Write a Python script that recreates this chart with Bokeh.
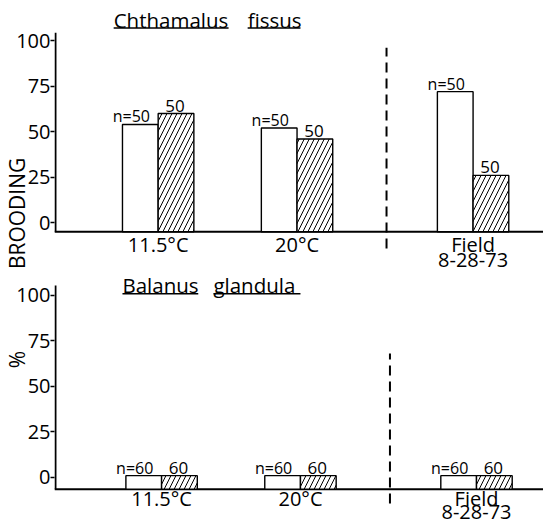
from bokeh.core.properties import value
from bokeh.embed import file_html
from bokeh.models import ColumnDataSource, FixedTicker, Range1d
from bokeh.plotting import figure
from bokeh.resources import INLINE

# ---- data -----------------------------------------------------------------
conditions = ["11.5\u00b0C", "20\u00b0C", "Field\n8-28-73"]
y_ticks = [0, 25, 50, 75, 100]

# Chthamalus fissus: percent brooding
chth_open = [54, 52, 72]
chth_hatched = [60, 46, 26]
chth_n_open = [50, 50, 50]
chth_n_hatched = [50, 50, 50]

# Balanus glandula: percent brooding
bal_open = [1, 1, 1]
bal_hatched = [1, 1, 1]
bal_n_open = [60, 60, 60]
bal_n_hatched = [60, 60, 60]

# ---- layout constants -----------------------------------------------------
FONT = "Open Sans"
GROUP_X = [21.2, 49.6, 85.6]   # group centres on a 0-100 horizontal scale
BAR_W = 7.3
DIVIDER_X = 67.9
TOP_SHIFT = 140                # vertical offset of the upper panel
NBSP = "\u00a0"

p = figure(width=543, height=525,
           x_range=Range1d(0, 100), y_range=Range1d(-26.4, 262.1),
           output_backend="svg", toolbar_location=None,
           x_axis_location=None, y_axis_location="left",
           min_border_left=54, min_border_right=0,
           min_border_top=0, min_border_bottom=0)
p.outline_line_color = None
p.grid.grid_line_color = None

# one left axis carries the tick marks of both panels
ax = p.yaxis[0]
ax.ticker = FixedTicker(ticks=y_ticks + [t + TOP_SHIFT for t in y_ticks])
ax.major_label_overrides = {**{t: str(t) for t in y_ticks},
                            **{t + TOP_SHIFT: str(t) for t in y_ticks}}
ax.axis_line_color = None
ax.major_tick_in = 0
ax.major_tick_out = 4
ax.major_tick_line_width = 1.5
ax.major_tick_line_color = "black"
ax.minor_tick_line_color = None
ax.major_label_standoff = 0
ax.major_label_text_font = FONT
ax.major_label_text_font_size = "20px"
ax.major_label_text_color = "black"
ax.axis_label = "%" + NBSP * 15 + "BROODING"
ax.axis_label_text_font = FONT
ax.axis_label_text_font_size = "21px"
ax.axis_label_text_font_style = "normal"
ax.axis_label_text_color = "black"
ax.axis_label_standoff = -18


def panel(dy, dx, base, axis_top, open_vals, hatch_vals, n_open, n_hatch,
          words, word_x, title_y, underline_y, underline_x, divider,
          cat_y, cat_step):
    gx = [g + dx for g in GROUP_X]
    src = ColumnDataSource(dict(
        x_open=[g - BAR_W / 2 for g in gx],
        x_hatch=[g + BAR_W / 2 for g in gx],
        open=[v + dy for v in open_vals],
        hatched=[v + dy for v in hatch_vals],
        n_open=[f"n={n}" for n in n_open],
        n_hatch=[str(n) for n in n_hatch],
    ))

    # axis line and baseline
    p.segment(x0=[0.2], x1=[0.2], y0=[base + dy], y1=[axis_top + dy],
              line_color="black", line_width=2)
    p.segment(x0=[0], x1=[100], y0=[base + dy], y1=[base + dy],
              line_color="black", line_width=2)

    p.vbar(x="x_open", width=BAR_W, top="open", bottom=base + dy, source=src,
           fill_color="white", line_color="black", line_width=1.4)
    p.vbar(x="x_hatch", width=BAR_W, top="hatched", bottom=base + dy,
           source=src, fill_color="white", hatch_pattern="/",
           hatch_color="black", hatch_scale=10, hatch_weight=1,
           line_color="black", line_width=1.4)

    p.text(x="x_open", y="open", text="n_open", source=src,
           x_offset=-9, y_offset=-8, text_align="center",
           text_baseline="middle", text_font=value(FONT),
           text_font_size="16px", text_color="black")
    p.text(x="x_hatch", y="hatched", text="n_hatch", source=src,
           x_offset=-1, y_offset=-8, text_align="center",
           text_baseline="middle", text_font=value(FONT),
           text_font_size="17px", text_color="black")

    # laboratory / field divider
    p.segment(x0=[DIVIDER_X + dx], x1=[DIVIDER_X + dx],
              y0=[divider[0] + dy], y1=[divider[1] + dy],
              line_color="black", line_width=2, line_dash="10 6")

    # condition labels, one row per text line
    xs, ys, texts = [], [], []
    for g, c in zip(gx, conditions):
        for i, line in enumerate(c.split("\n")):
            xs.append(g)
            ys.append(cat_y - i * cat_step + dy)
            texts.append(line)
    p.text(x=xs, y=ys, text=texts, text_align="center",
           text_baseline="middle", text_font=value(FONT),
           text_font_size="20px", text_color="black")

    # underlined species name
    p.text(x=word_x, y=[title_y + dy] * len(words), text=words,
           text_align="left", text_baseline="middle",
           text_font=value(FONT), text_font_size="20.5px", text_color="black")
    p.segment(x0=[u[0] for u in underline_x], x1=[u[1] for u in underline_x],
              y0=[underline_y + dy] * len(underline_x),
              y1=[underline_y + dy] * len(underline_x),
              line_color="black", line_width=1.5)


panel(TOP_SHIFT, 0.0, -5.0, 104.4,
      chth_open, chth_hatched, chth_n_open, chth_n_hatched,
      ["Chthamalus", "fissus"], [12.1, 39.5], 111.6, 107.0,
      [(12.1, 35.6), (39.5, 50.3)], (-14.2, 96.2), -12.0, 8.5)

panel(0, 0.7, -6.5, 105.5,
      bal_open, bal_hatched, bal_n_open, bal_n_hatched,
      ["Balanus", "glandula"], [13.9, 32.5], 106.0, 101.0,
      [(13.9, 29.4), (32.5, 50.3)], (-14.3, 68.1), -11.6, 7.6)

open("out.html", "w").write(file_html(p, INLINE))
